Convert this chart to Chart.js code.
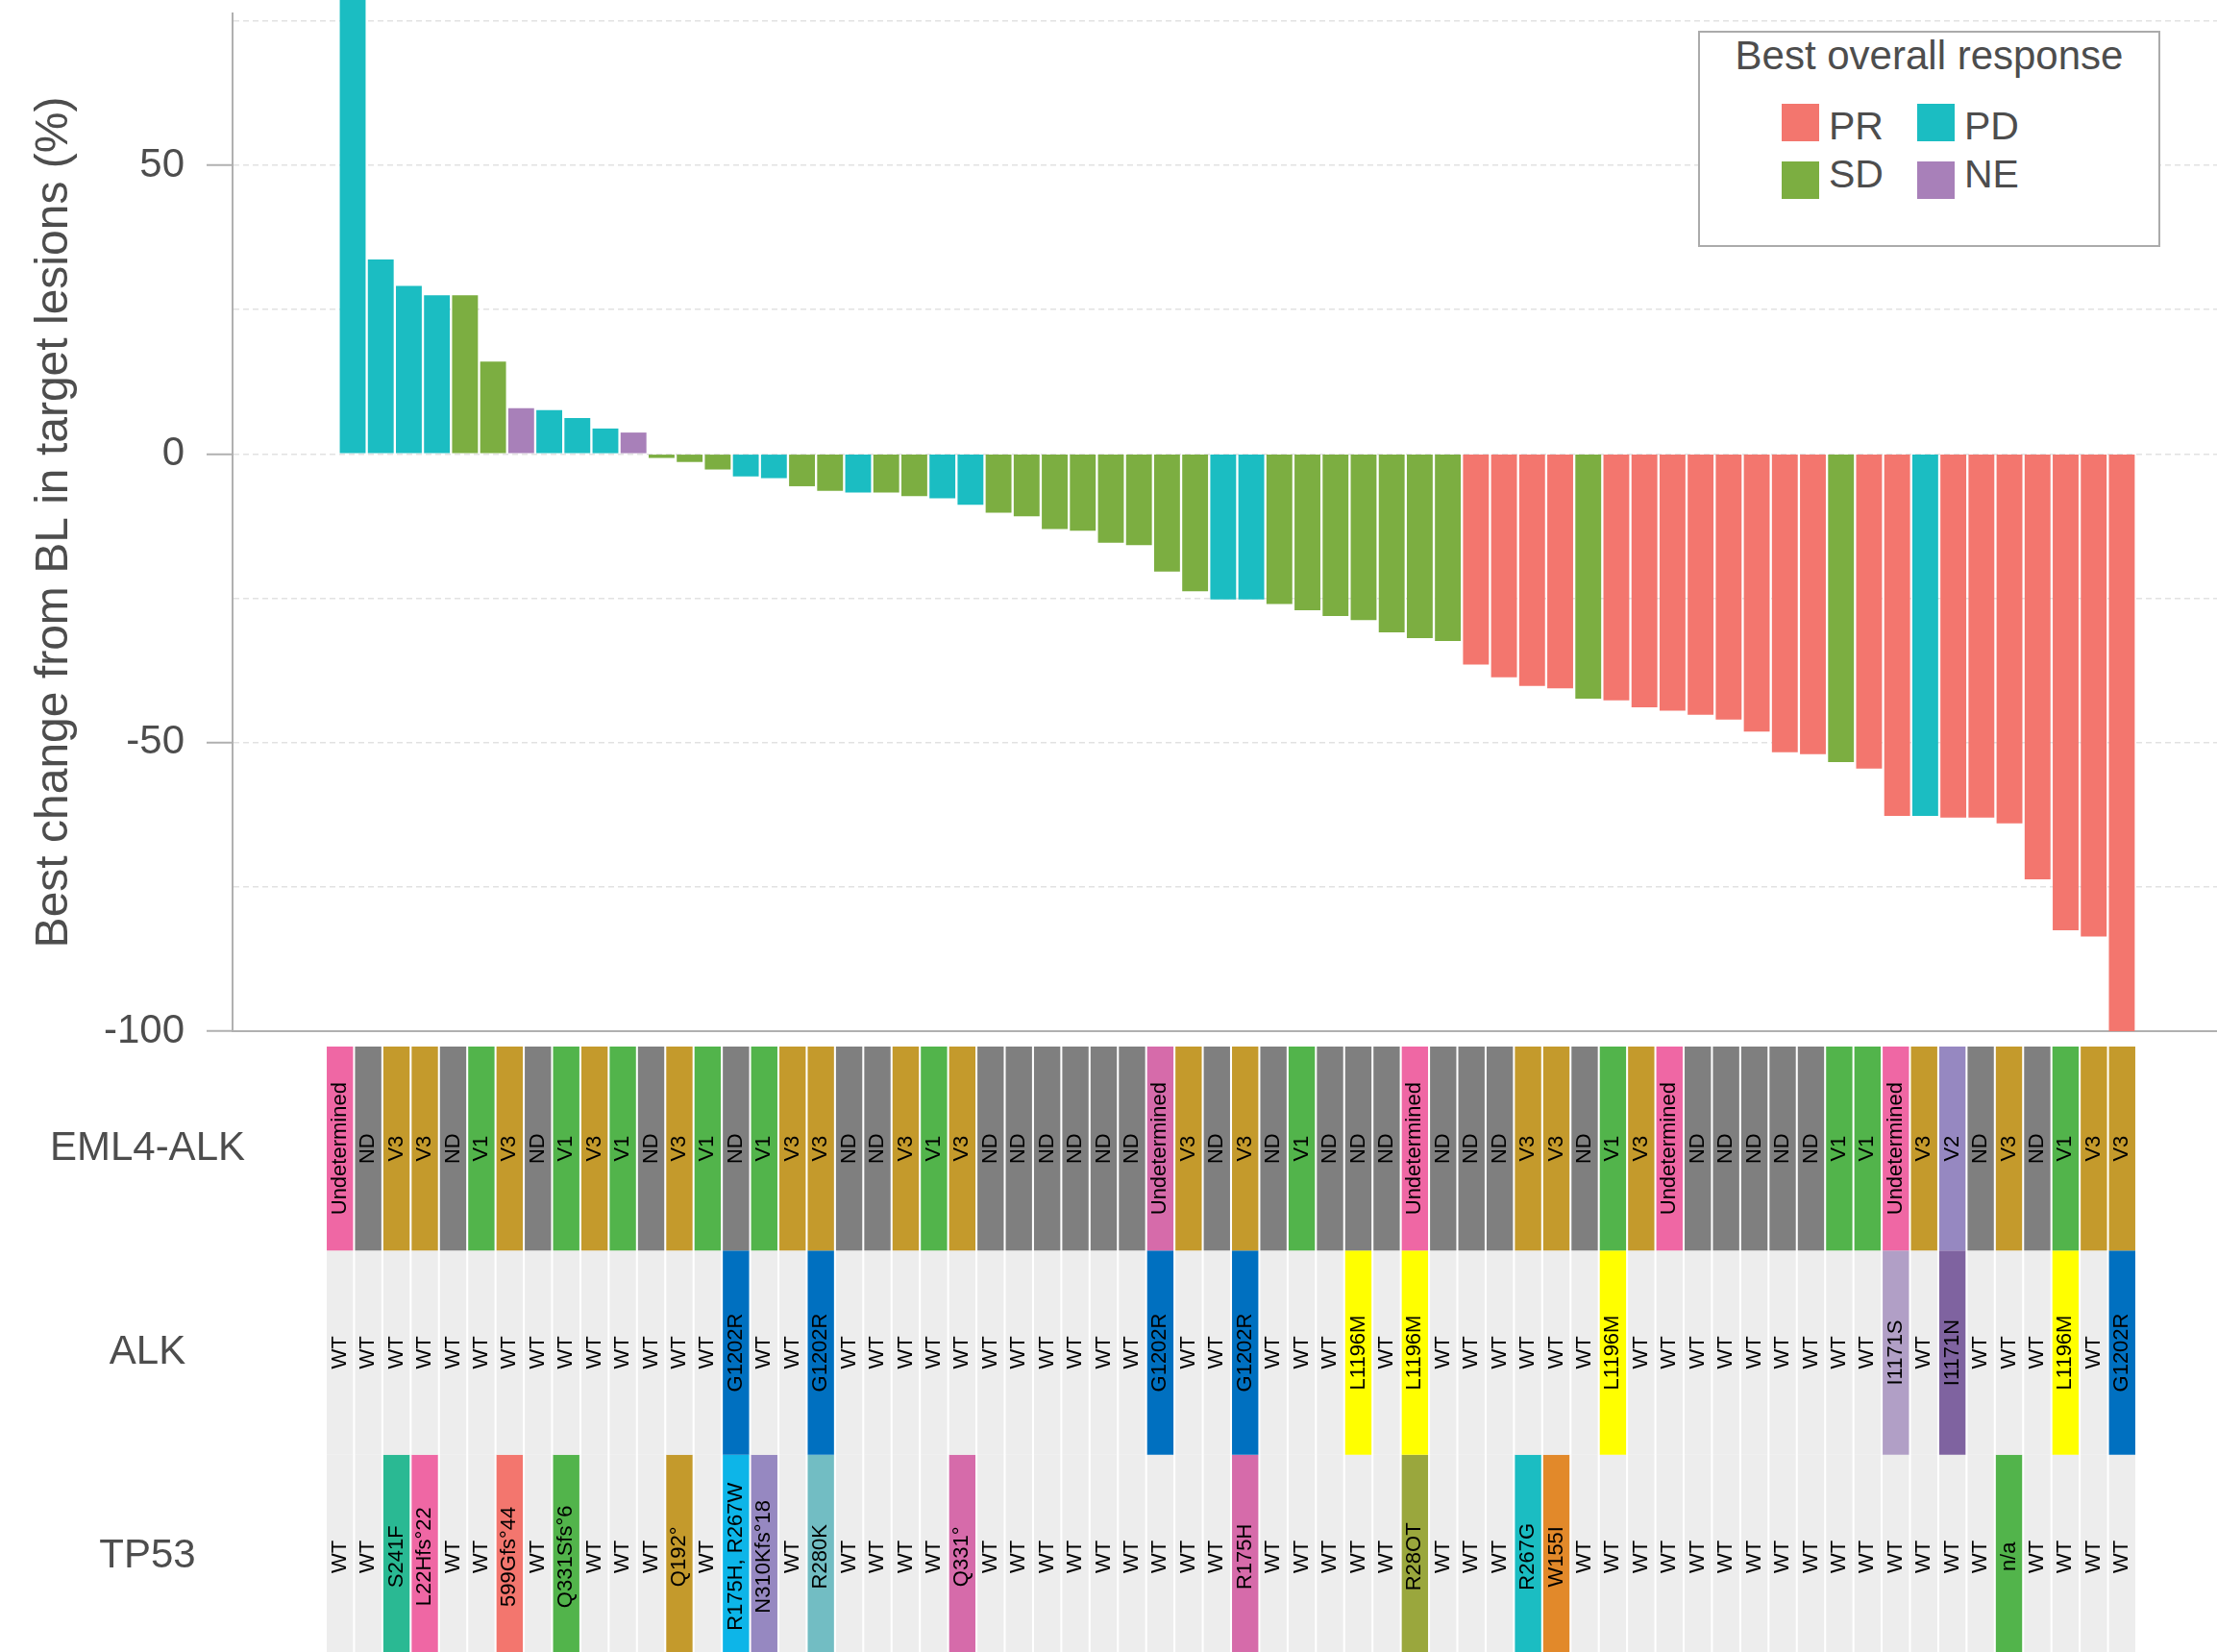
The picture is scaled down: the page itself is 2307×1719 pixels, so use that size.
<!DOCTYPE html>
<html>
<head>
<meta charset="utf-8">
<script src="https://cdn.jsdelivr.net/npm/chart.js@4.4.1/dist/chart.umd.min.js"></script>
<style>
  html, body { margin: 0; padding: 0; width: 2307px; height: 1719px; overflow: hidden; background: #fff; }
  canvas { position: absolute; left: 0; }
  #barsCanvas { top: 0; z-index: 1; }
  #trackCanvas { top: 1080px; z-index: 2; }
  #legend {
    position: absolute; left: 1767px; top: 32px; width: 481px; height: 225px;
    box-sizing: border-box; border: 2px solid #ababab; background: #fff; z-index: 3;
    font-family: "Liberation Sans", Arial, sans-serif; color: #4d4d4d;
  }
  #legend .title { position: absolute; left: 0; right: 0; top: 3px; text-align: center; font-size: 42px; line-height: 42px; }
  #legend .swatch { position: absolute; width: 39px; height: 39px; }
  #legend .label { position: absolute; font-size: 41px; line-height: 41px; }
</style>
</head>
<body>
<canvas id="barsCanvas" width="2307" height="1100"></canvas>
<canvas id="trackCanvas" width="2307" height="646"></canvas>
<div id="legend"></div>

<script>
// ---- Best change from baseline, one value per patient (sorted waterfall) ----
const bestChange = [
  80, 33.7, 29.1, 27.5, 27.5, 16.0, 7.9, 7.6, 6.2, 4.4, 3.7,
  -0.7, -1.4, -2.7, -3.9, -4.2, -5.6, -6.4, -6.7, -6.7, -7.3, -7.7, -8.8,
  -10.2, -10.8, -13.0, -13.3, -15.4, -15.8, -20.4, -23.8, -25.2, -25.2,
  -26.0, -27.1, -28.1, -28.8, -30.9, -31.9, -32.4,
  -36.5, -38.7, -40.2, -40.6, -42.4, -42.7, -43.9, -44.5, -45.2, -46.0,
  -48.1, -51.7, -52.0, -53.4, -54.5, -62.7, -62.7, -63.0, -63.0, -64.0,
  -73.7, -82.5, -83.6, -100
];

// ---- Best overall response per patient ----
const response = [
  'PD','PD','PD','PD','SD','SD','NE','PD','PD','PD','NE',
  'SD','SD','SD','PD','PD','SD','SD','PD','SD','SD','PD','PD',
  'SD','SD','SD','SD','SD','SD','SD','SD','PD','PD',
  'SD','SD','SD','SD','SD','SD','SD',
  'PR','PR','PR','PR','SD','PR','PR','PR','PR','PR',
  'PR','PR','PR','SD','PR','PR','PD','PR','PR','PR',
  'PR','PR','PR','PR'
];

// ---- Genomic annotation rows ----
const rowNames = ['EML4-ALK', 'ALK', 'TP53'];

const eml4alk = [
  'Undetermined','ND','V3','V3','ND','V1','V3','ND','V1','V3','V1','ND','V3','V1','ND','V1',
  'V3','V3','ND','ND','V3','V1','V3','ND','ND','ND','ND','ND','ND','Undetermined','V3','ND',
  'V3','ND','V1','ND','ND','ND','Undetermined','ND','ND','ND','V3','V3','ND','V1','V3','Undetermined',
  'ND','ND','ND','ND','ND','V1','V1','Undetermined','V3','V2','ND','V3','ND','V1','V3','V3'
];

const alkMutation = [
  'WT','WT','WT','WT','WT','WT','WT','WT','WT','WT','WT','WT','WT','WT','G1202R','WT',
  'WT','G1202R','WT','WT','WT','WT','WT','WT','WT','WT','WT','WT','WT','G1202R','WT','WT',
  'G1202R','WT','WT','WT','L1196M','WT','L1196M','WT','WT','WT','WT','WT','WT','L1196M','WT','WT',
  'WT','WT','WT','WT','WT','WT','WT','I1171S','WT','I1171N','WT','WT','WT','L1196M','WT','G1202R'
];

const tp53Mutation = [
  'WT','WT','S241F','L22Hfs°22','WT','WT','599Gfs°44','WT','Q331Sfs°6','WT','WT','WT','Q192°','WT','R175H, R267W','N310Kfs°18',
  'WT','R280K','WT','WT','WT','WT','Q331°','WT','WT','WT','WT','WT','WT','WT','WT','WT',
  'R175H','WT','WT','WT','WT','WT','R28OT','WT','WT','WT','R267G','W155I','WT','WT','WT','WT',
  'WT','WT','WT','WT','WT','WT','WT','WT','WT','WT','WT','n/a','WT','WT','WT','WT'
];

// ---- Colours ----
const responseColors = { PR: '#F3766E', PD: '#1BBDC2', SD: '#7CAE41', NE: '#A880B9' };
const legendOrder = ['PR', 'PD', 'SD', 'NE'];

const eml4Colors = { Undetermined: '#EF67A4', ND: '#7F7F7F', V1: '#52B44B', V2: '#9688C1', V3: '#C49A2C' };
const alkColors = { WT: '#EDEDED', G1202R: '#0070C0', L1196M: '#FFFF00', I1171S: '#B19FC6', I1171N: '#7F63A0' };
const tp53Colors = {
  'WT': '#EDEDED', 'S241F': '#2AB993', 'L22Hfs°22': '#EF67A4', '599Gfs°44': '#F3766E',
  'Q331Sfs°6': '#52B44B', 'Q192°': '#C49A2C', 'R175H, R267W': '#0DB5E8', 'N310Kfs°18': '#9688C1',
  'R280K': '#72BDC3', 'Q331°': '#D66BAA', 'R175H': '#D66BAA', 'R28OT': '#9AA73D',
  'R267G': '#1BBDC2', 'W155I': '#E2892A', 'n/a': '#52B44B'
};
// one EML4-ALK cell is shaded in the darker pink
const eml4ShadeOverride = { 29: '#D66BAA' };
const rowColorMaps = [eml4Colors, alkColors, tp53Colors];
const rowOverrides = [eml4ShadeOverride, {}, {}];
const rowValues = [eml4alk, alkMutation, tp53Mutation];

const FONT = '"Liberation Sans", Arial, Helvetica, sans-serif';
const TEXT_GREY = '#4d4d4d';
const AXIS_GREY = '#b0b0b0';

// Keep the plot area exactly where the layout padding puts it
function noLabelPadding(s) { s.paddingTop = 0; s.paddingBottom = 0; s.paddingLeft = 0; s.paddingRight = 0; }

// ---- Waterfall bars ----
new Chart(document.getElementById('barsCanvas'), {
  type: 'bar',
  data: {
    datasets: [{
      data: bestChange.map((v, i) => ({ x: i, y: v })),
      backgroundColor: response.map(r => responseColors[r]),
      borderWidth: 0,
      categoryPercentage: 1,
      barPercentage: 0.92,
      clip: false
    }]
  },
  options: {
    responsive: false,
    animation: false,
    layout: { padding: { left: 0, right: 0, top: 14, bottom: 27 } },
    plugins: { legend: { display: false }, tooltip: { enabled: false } },
    scales: {
      x: {
        type: 'linear', offset: false, min: -4.278, max: 66.39,
        ticks: { display: false },
        grid: { display: false, drawTicks: false },
        border: { display: true, color: AXIS_GREY, width: 2 },
        afterFit(s) { s.height = 0; noLabelPadding(s); }
      },
      y: {
        min: -100, max: 76.3,
        ticks: {
          stepSize: 25, includeBounds: false,
          callback: v => (v % 50 === 0 ? String(v) : ''),
          font: { family: FONT, size: 42 }, color: TEXT_GREY, padding: 23
        },
        grid: {
          color: '#e2e2e2', lineWidth: 1.5, tickLength: 27, tickWidth: 2,
          tickColor: c => (c.tick && c.tick.value % 50 === 0 ? AXIS_GREY : 'rgba(0,0,0,0)')
        },
        border: { display: true, color: AXIS_GREY, width: 2, dash: [6, 4] },
        title: {
          display: true, text: 'Best change from BL in target lesions (%)',
          font: { family: FONT, size: 48 }, color: TEXT_GREY, padding: { top: 28, bottom: 0 }
        },
        afterFit(s) { s.width = 242; noLabelPadding(s); }
      }
    }
  }
});

// ---- Annotation track: rotated labels inside each cell ----
const cellTextPlugin = {
  id: 'cellText',
  afterDatasetsDraw(chart) {
    const ctx = chart.ctx;
    chart.data.datasets.forEach((ds, di) => {
      const meta = chart.getDatasetMeta(di);
      meta.data.forEach((el, i) => {
        const txt = ds.cellText[i];
        const yc = (el.y + el.base) / 2;
        ctx.save();
        ctx.translate(el.x, yc);
        ctx.rotate(-Math.PI / 2);
        ctx.font = '22px ' + FONT;
        ctx.fillStyle = '#000';
        ctx.textAlign = 'center';
        ctx.textBaseline = 'middle';
        ctx.fillText(txt, 0, 0);
        ctx.restore();
      });
    });
  }
};

new Chart(document.getElementById('trackCanvas'), {
  type: 'bar',
  data: {
    labels: bestChange.map((_, i) => i + 1),
    datasets: rowValues.map((row, r) => ({
      label: rowNames[r],
      data: row.map(() => [r, r + 1]),
      backgroundColor: row.map((v, i) => rowOverrides[r][i] || rowColorMaps[r][v]),
      cellText: row,
      borderWidth: 0,
      categoryPercentage: 1,
      barPercentage: 0.93,
      grouped: false
    }))
  },
  options: {
    responsive: false,
    animation: false,
    layout: { padding: { left: 0, right: 84, top: 9, bottom: 0 } },
    plugins: { legend: { display: false }, tooltip: { enabled: false } },
    scales: {
      x: { type: 'category', offset: true, display: false },
      y: {
        min: 0, max: 3, reverse: true,
        afterBuildTicks(s) { s.ticks = rowNames.map((_, r) => ({ value: r + 0.5 })); },
        ticks: {
          callback: v => rowNames[Math.floor(v)],
          font: { family: FONT, size: 42 }, color: TEXT_GREY,
          crossAlign: 'center', padding: 84
        },
        grid: { display: false, drawTicks: false },
        border: { display: false },
        afterFit(s) { s.width = 339; noLabelPadding(s); }
      }
    }
  },
  plugins: [cellTextPlugin]
});

// ---- Legend ----
(function buildLegend() {
  const box = document.getElementById('legend');
  const title = document.createElement('div');
  title.className = 'title';
  title.textContent = 'Best overall response';
  box.appendChild(title);
  legendOrder.forEach((key, k) => {
    const col = k % 2, row = Math.floor(k / 2);
    const sw = document.createElement('div');
    sw.className = 'swatch';
    sw.style.left = (85 + col * 141) + 'px';
    sw.style.top = (74 + row * 60) + 'px';
    sw.style.background = responseColors[key];
    box.appendChild(sw);
    const lab = document.createElement('div');
    lab.className = 'label';
    lab.style.left = (134 + col * 141) + 'px';
    lab.style.top = (77 + row * 50) + 'px';
    lab.textContent = key;
    box.appendChild(lab);
  });
})();
</script>
</body>
</html>
